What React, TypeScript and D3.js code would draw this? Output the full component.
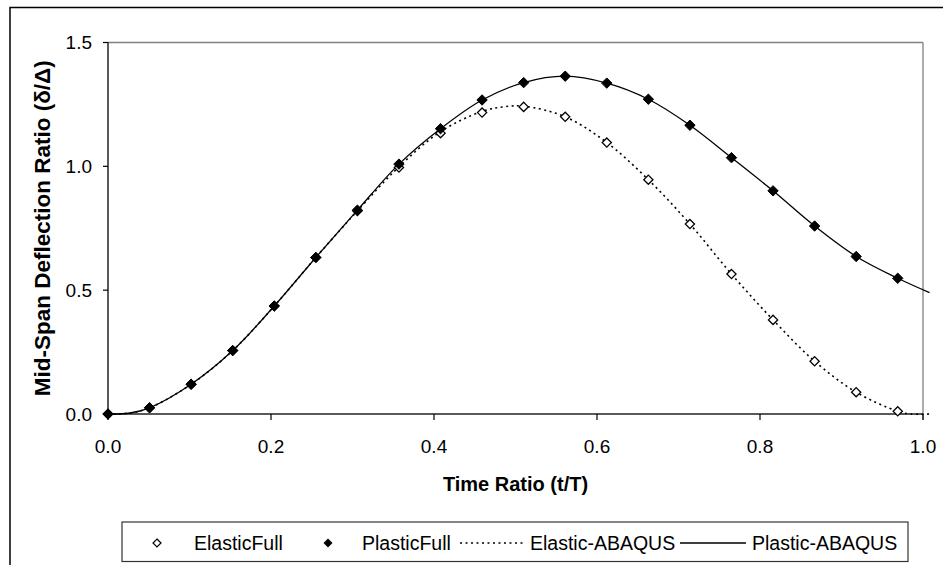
import React from "react";
import * as d3 from "d3";

const markerT = [0, 0.051, 0.102, 0.153, 0.204, 0.255, 0.306, 0.357, 0.408, 0.459, 0.51, 0.561, 0.612, 0.663, 0.714, 0.765, 0.816, 0.867, 0.918, 0.969];
const plasticFull = [0, 0.025, 0.12, 0.256, 0.436, 0.632, 0.823, 1.009, 1.152, 1.268, 1.338, 1.364, 1.336, 1.271, 1.166, 1.035, 0.901, 0.759, 0.636, 0.548];
const elasticFull = [0, 0.025, 0.12, 0.256, 0.436, 0.632, 0.82, 0.995, 1.134, 1.217, 1.24, 1.2, 1.096, 0.946, 0.767, 0.565, 0.38, 0.213, 0.088, 0.011];

const plasticAbaqusT = [0, 0.027, 0.051, 0.102, 0.153, 0.204, 0.255, 0.306, 0.357, 0.408, 0.459, 0.51, 0.561, 0.612, 0.663, 0.714, 0.765, 0.816, 0.867, 0.918, 0.969, 1.008];
const plasticAbaqus = [0, 0.004, 0.025, 0.12, 0.256, 0.436, 0.632, 0.823, 1.009, 1.152, 1.268, 1.338, 1.364, 1.336, 1.271, 1.166, 1.035, 0.901, 0.759, 0.636, 0.548, 0.49];
const elasticAbaqusT = [0, 0.027, 0.051, 0.102, 0.153, 0.204, 0.255, 0.306, 0.357, 0.408, 0.459, 0.485, 0.51, 0.561, 0.612, 0.663, 0.714, 0.765, 0.816, 0.867, 0.918, 0.969, 0.985, 1.008];
const elasticAbaqus = [0, 0.004, 0.025, 0.12, 0.256, 0.436, 0.632, 0.82, 0.998, 1.14, 1.222, 1.24, 1.243, 1.2, 1.096, 0.946, 0.767, 0.565, 0.38, 0.213, 0.088, 0.011, 0, 0];

const xTicks = [0, 0.2, 0.4, 0.6, 0.8, 1.0];
const yTicks = [0, 0.5, 1.0, 1.5];
const legendLabels = ["ElasticFull", "PlasticFull", "Elastic-ABAQUS", "Plastic-ABAQUS"];

const W = 943, H = 565;
const L = 108, R = 923, T = 42.5, B = 414;
const FONT = "'Liberation Sans', Arial, sans-serif";

function diamond(h: number) {
  const p = d3.path();
  p.moveTo(0, -h); p.lineTo(h, 0); p.lineTo(0, h); p.lineTo(-h, 0); p.closePath();
  return p.toString();
}

export default function App() {
  const x = d3.scaleLinear().domain([0, 1]).range([L, R]);
  const y = d3.scaleLinear().domain([0, 1.5]).range([B, T]);
  const line = d3.line<[number, number]>().x(d => x(d[0])).y(d => y(d[1])).curve(d3.curveCatmullRom.alpha(0.5));
  const pData: [number, number][] = plasticAbaqusT.map((t, i) => [t, plasticAbaqus[i]]);
  const eData: [number, number][] = elasticAbaqusT.map((t, i) => [t, elasticAbaqus[i]]);
  const fmt = d3.format(".1f");
  const legY = 543;
  return (
    <svg width={W} height={H} style={{ position: "absolute", left: 0, top: 0, background: "#fff" }} fontFamily={FONT}>
      <rect x={10} y={7.5} width={1000} height={1000} fill="#fff" stroke="#000" strokeWidth={1.5} />
      {/* plot frame */}
      <line x1={L} x2={R} y1={T} y2={T} stroke="#808080" strokeWidth={1.3} />
      <line x1={R} x2={R} y1={T} y2={B + 6} stroke="#808080" strokeWidth={1.3} />
      <line x1={L} x2={L} y1={T} y2={B} stroke="#000" strokeWidth={1.3} />
      <line x1={L} x2={R} y1={B} y2={B} stroke="#222" strokeWidth={1.3} />
      {yTicks.map(v => (
        <g key={"y" + v}>
          <line x1={L - 5} x2={L} y1={y(v)} y2={y(v)} stroke="#000" strokeWidth={1.2} />
          <text x={92} y={y(v)} dy="0.36em" textAnchor="end" fontSize={19}>{fmt(v)}</text>
        </g>
      ))}
      {xTicks.map(v => (
        <g key={"x" + v}>
          <line x1={x(v)} x2={x(v)} y1={B} y2={B + 6} stroke="#000" strokeWidth={1.2} />
          <text x={x(v)} y={452.5} textAnchor="middle" fontSize={19}>{fmt(v)}</text>
        </g>
      ))}
      <text x={(L + R) / 2} y={491} textAnchor="middle" fontSize={20} fontWeight="bold">Time Ratio (t/T)</text>
      <text transform={`translate(50,${(T + B) / 2}) rotate(-90)`} textAnchor="middle" fontSize={22.5} fontWeight="bold">Mid-Span Deflection Ratio (δ/Δ)</text>
      {/* lines */}
      <path d={line(eData) || ""} fill="none" stroke="#000" strokeWidth={1.6} strokeDasharray="2,3.5" />
      <path d={line(pData) || ""} fill="none" stroke="#000" strokeWidth={1.3} />
      {markerT.map((t, i) => (
        <path key={"e" + i} d={diamond(4.6)} transform={`translate(${x(t)},${y(elasticFull[i])})`} fill="#fff" stroke="#000" strokeWidth={1.3} />
      ))}
      {markerT.map((t, i) => (
        <path key={"p" + i} d={diamond(5.2)} transform={`translate(${x(t)},${y(plasticFull[i])})`} fill="#000" stroke="#000" strokeWidth={1} />
      ))}
      {/* legend */}
      <rect x={122} y={522} width={786} height={39.5} fill="#fff" stroke="#333" strokeWidth={1.2} />
      <path d={diamond(4)} transform={`translate(157,${legY})`} fill="#fff" stroke="#000" strokeWidth={1.2} />
      <text x={194} y={549.5} fontSize={19.5}>{legendLabels[0]}</text>
      <path d={diamond(4.5)} transform={`translate(328,${legY})`} fill="#000" />
      <text x={362} y={549.5} fontSize={19.5}>{legendLabels[1]}</text>
      <line x1={460} x2={526} y1={legY} y2={legY} stroke="#000" strokeWidth={1.4} strokeDasharray="2,3.5" />
      <text x={530} y={549.5} fontSize={19.5}>{legendLabels[2]}</text>
      <line x1={680} x2={746} y1={legY} y2={legY} stroke="#000" strokeWidth={1.3} />
      <text x={752} y={549.5} fontSize={19.5}>{legendLabels[3]}</text>
    </svg>
  );
}
